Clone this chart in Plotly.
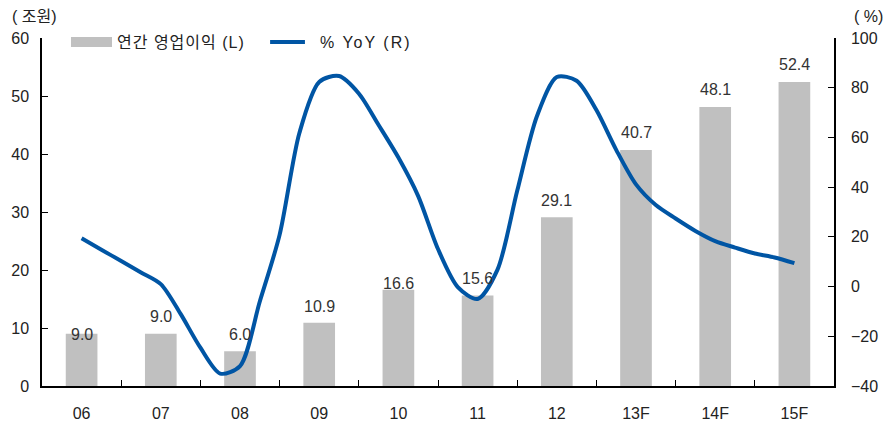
import numpy as np
import plotly.graph_objects as go

# Annual operating profit (trillion won) and quarterly-step YoY growth (%)
years = ["06", "07", "08", "09", "10", "11", "12", "13F", "14F", "15F"]
op_profit = [9.0, 9.0, 6.0, 10.9, 16.6, 15.6, 29.1, 40.7, 48.1, 52.4]
yoy = [19.4, 14.8, 10.3, 5.7, 1.0, -11.0, -24.6, -35.0, -32.0,
       -6.0, 20.8, 61.8, 82.3, 84.7, 77.7, 65.0, 51.9, 36.4, 15.1,
       -0.2, -5.0, 6.7, 38.5, 68.6, 84.3, 82.8, 71.0, 55.0, 41.1,
       32.8, 27.4, 22.4, 18.3, 15.7, 13.3, 11.7, 9.4]

# vertical nudge (px) of each value label relative to its bar top
label_nudge = [-11, 7, 6, 6, -4, 7, 6, 7, 7, 7]

FONT = "Liberation Sans, Arial, Noto Sans CJK KR, sans-serif"
GRAY = "#C0C0C0"
BLUE = "#0055A4"
INK = "#222222"

# line sampled every quarter of a category step
yoy_pos = np.arange(len(yoy)) / 4.0

fig = go.Figure()
fig.add_trace(go.Bar(
    x=years, y=op_profit, width=0.4, marker=dict(color=GRAY, line=dict(width=0)),
    showlegend=False, name="연간 영업이익 (L)",
))
fig.add_trace(go.Scatter(
    x=yoy_pos, y=yoy, mode="lines", xaxis="x2", yaxis="y2",
    line=dict(color=BLUE, width=4, shape="spline", smoothing=0.8),
    showlegend=False, name="% YoY (R)",
))

# value labels above the bars (x given as category index)
for idx, (v, dy) in enumerate(zip(op_profit, label_nudge)):
    fig.add_annotation(x=idx, y=v, xref="x", yref="y", text=f"{v:.1f}",
                       showarrow=False, yanchor="bottom", yshift=dy,
                       font=dict(size=16, color="#333333", family=FONT))

axis_common = dict(showline=True, linecolor="black", linewidth=1.5,
                   showgrid=False, zeroline=False, automargin=False,
                   tickfont=dict(size=16, color=INK, family=FONT))

fig.update_layout(
    width=891, height=423,
    margin=dict(l=42, r=57, t=38, b=37),
    paper_bgcolor="white", plot_bgcolor="white",
    font=dict(family=FONT, color=INK),
    bargap=0.6,
    xaxis=dict(type="category", categoryorder="array", categoryarray=years,
               range=[-0.5, len(years) - 0.5],
               tickson="boundaries", ticks="inside", ticklen=6, tickcolor="black",
               ticklabelstandoff=12, **axis_common),
    xaxis2=dict(overlaying="x", anchor="y2", range=[-0.5, 9.5], visible=False),
    yaxis=dict(range=[0, 60], dtick=10, ticks="inside", ticklen=6, tickcolor="black",
               ticklabelstandoff=8, **axis_common),
    yaxis2=dict(overlaying="y", anchor="x2", side="right", range=[-40, 100], dtick=20,
                ticks="inside", ticklen=6, tickcolor="black",
                ticklabelstandoff=12, **axis_common),
)

# axis unit captions
fig.add_annotation(text="( 조원)", xref="paper", yref="paper", x=-0.041, y=1.063,
                   xanchor="left", yanchor="middle", showarrow=False,
                   font=dict(size=16, color=INK, family=FONT))
fig.add_annotation(text="( %)", xref="paper", yref="paper", x=1.064, y=1.063,
                   xanchor="right", yanchor="middle", showarrow=False,
                   font=dict(size=16, color=INK, family=FONT))

# legend drawn inside the plot area
fig.add_shape(type="rect", xref="paper", yref="paper",
              x0=0.0366, x1=0.0884, y0=0.974, y1=1.003,
              fillcolor=GRAY, line=dict(width=0))
fig.add_annotation(text="<span style='letter-spacing:1px'>연간 영업이익 (L)</span>",
                   xref="paper", yref="paper",
                   x=0.0922, y=0.9885, xanchor="left", yanchor="middle",
                   showarrow=False, font=dict(size=16, color=INK, family=FONT))
fig.add_shape(type="line", xref="paper", yref="paper",
              x0=0.288, x1=0.332, y0=0.9885, y1=0.9885,
              line=dict(color=BLUE, width=4))
fig.add_annotation(text="<span style='letter-spacing:2px'>% YoY (R)</span>",
                   xref="paper", yref="paper",
                   x=0.3485, y=0.9885, xanchor="left", yanchor="middle",
                   showarrow=False, font=dict(size=16, color=INK, family=FONT))

fig.write_html("out.html")
